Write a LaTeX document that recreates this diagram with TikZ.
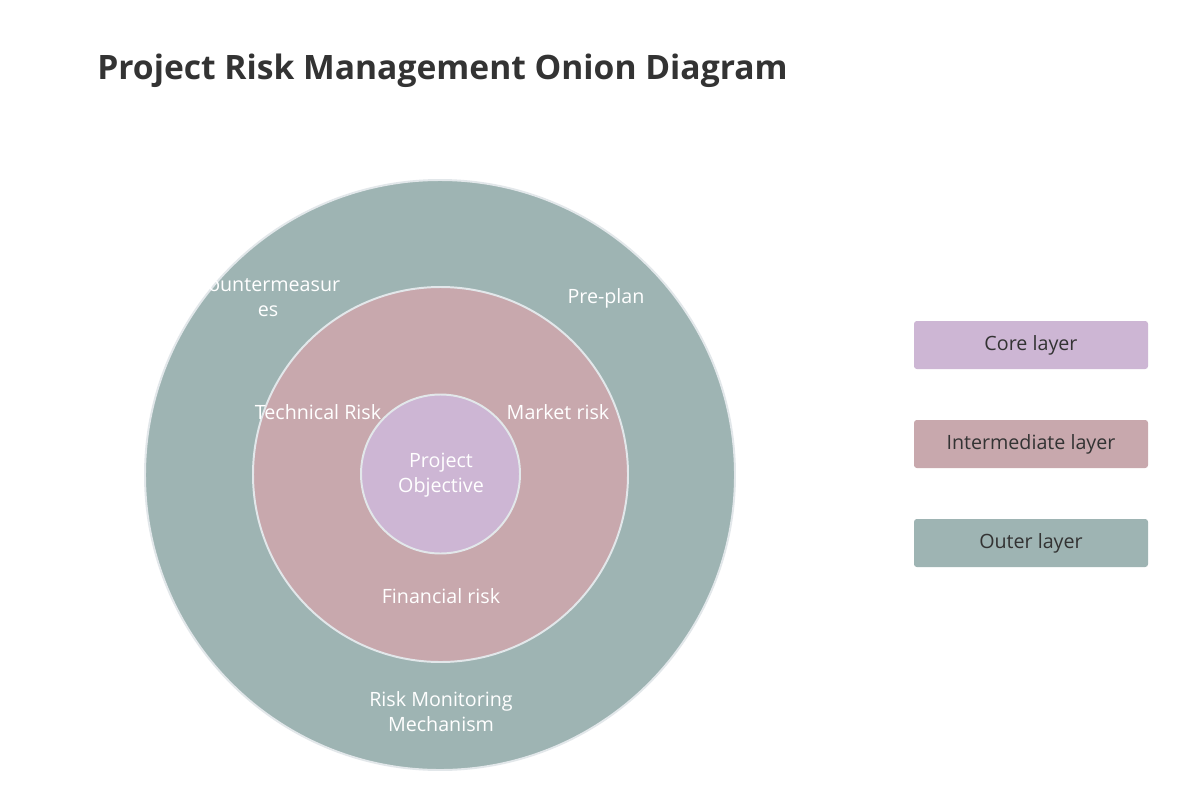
\documentclass[tikz,border=0pt]{standalone}
\usepackage{fontspec}
\setmainfont{Open Sans}
\definecolor{outerc}{HTML}{9EB4B3}
\definecolor{midc}{HTML}{C8A8AD}
\definecolor{corec}{HTML}{CDB6D4}
\definecolor{rimc}{HTML}{E2E7EA}
\definecolor{inkc}{HTML}{333333}
\begin{document}
\begin{tikzpicture}[x=0.025cm,y=-0.025cm,
  ring/.style={circle, draw=rimc, line width=1.4pt, inner sep=0pt},
  lbl/.style={text=white, align=center, font=\fontsize{14}{17.7}\selectfont},
  legendbox/.style={draw=none, rounded corners=2pt, minimum width=234*0.025cm, minimum height=48*0.025cm, text=inkc, font=\fontsize{14}{17}\selectfont}]
\useasboundingbox[fill=white] (0,0) rectangle (1187,808);
\node[anchor=base west, text=inkc, font=\fontsize{23.9}{28}\selectfont\bfseries, inner sep=0pt] (title) at (97,80) {Project Risk Management Onion Diagram};
\node[ring, fill=outerc, minimum size=590*0.025cm] (outer) at (440,475) {};
\node[ring, fill=midc, minimum size=375*0.025cm] (mid) at (440.5,474.5) {};
\node[ring, fill=corec, minimum size=159*0.025cm] (core) at (440.5,474) {};
\node[lbl] (goal) at (441,475) {Project\\Objective};
\node[lbl] (tech) at (318,412) {Technical Risk};
\node[lbl] (market) at (558,412) {Market risk};
\node[lbl] (fin) at (441,596) {Financial risk};
\node[lbl] (counter) at (268,297) {Countermeasur\\es};
\node[lbl] (preplan) at (606,298) {Pre-plan};
\node[lbl] (monitor) at (441,712) {Risk Monitoring\\Mechanism};
\node[legendbox, fill=corec] (lcore) at (1031,345) {Core layer};
\node[legendbox, fill=midc] (lmid) at (1031,444) {Intermediate layer};
\node[legendbox, fill=outerc] (louter) at (1031,543) {Outer layer};
\end{tikzpicture}
\end{document}
